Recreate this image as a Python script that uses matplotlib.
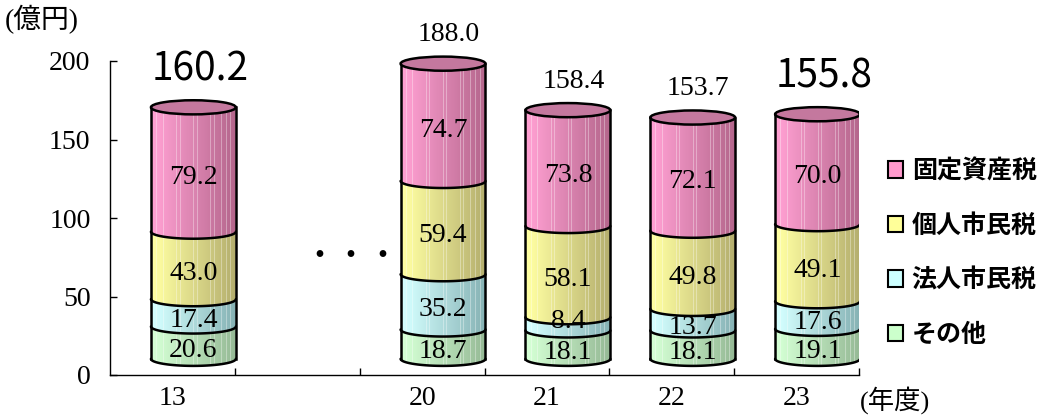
import numpy as np
import matplotlib
matplotlib.use('Agg')
import matplotlib.pyplot as plt
from matplotlib.path import Path
from matplotlib.patches import PathPatch, Ellipse, Patch
import matplotlib.colors as mcolors

# 市税収入の内訳（億円）
years = ['13', '20', '21', '22', '23']
slots = [0, 2, 3, 4, 5]          # slot 1 is left empty (・・・)
other = [20.6, 18.7, 18.1, 18.1, 19.1]
corp_tax = [17.4, 35.2, 8.4, 13.7, 17.6]
indiv_tax = [43.0, 59.4, 58.1, 49.8, 49.1]
fixed_tax = [79.2, 74.7, 73.8, 72.1, 70.0]
totals = [160.2, 188.0, 158.4, 153.7, 155.8]
series_names = ['その他', '法人市民税', '個人市民税', '固定資産税']

SERIF = ['Liberation Serif', 'DejaVu Serif']
GOTHIC = ['Noto Sans CJK JP', 'DejaVu Sans']

# (legend colour, light side, dark side) per series, bottom to top
palette = [
    ('#CCFFCC', '#D4FFD4', '#96BA96'),
    ('#CCFFFF', '#D4FFFF', '#86B2B4'),
    ('#FFFF99', '#FFFFA2', '#B4AE6E'),
    ('#FF99CC', '#FFA0D2', '#B4668C'),
]
top_face = '#C4789E'

# fake 3-D projection: cylinders sit back and to the right of the tick
DX, DY = 0.168, 10.3
HALF_W, HALF_H = 0.34, 4.5
stripes = [0.06, 0.14, 0.30, 0.34, 0.50, 0.54, 0.70, 0.74, 0.82, 0.88, 0.93]

YMAX = 235   # headroom above the 200 gridline so the tallest cylinder is not clipped
px_per_unit = 314 / 200
fig = plt.figure(figsize=(10.47, 4.16), dpi=100)
ax = fig.add_axes([110/1047, 41/416, 749/1047, YMAX*px_per_unit/416])


def lower_arc(xc, yc, n=80):
    th = np.linspace(np.pi, 2*np.pi, n)
    return np.column_stack([xc + HALF_W*np.cos(th), yc + HALF_H*np.sin(th)])


def side_gradient(light, dark, n=200):
    t = np.linspace(0, 1, n)
    c0 = np.array(mcolors.to_rgb(light))
    c1 = np.array(mcolors.to_rgb(dark))
    s = np.clip(t*1.05 - 0.05, 0, 1)
    return (c0[None, :]*(1 - s[:, None]) + c1[None, :]*s[:, None])[None, :, :]


def draw_segment(xc, y0, y1, light, dark):
    bottom = lower_arc(xc, y0)
    top = lower_arc(xc, y1)[::-1]
    verts = np.vstack([bottom, top, bottom[:1]])
    codes = [Path.MOVETO] + [Path.LINETO]*(len(verts) - 2) + [Path.CLOSEPOLY]
    patch = PathPatch(Path(verts, codes), fc='none', ec='none', zorder=3)
    ax.add_patch(patch)
    im = ax.imshow(side_gradient(light, dark), aspect='auto', interpolation='bilinear',
                   extent=[xc - HALF_W, xc + HALF_W, y0 - HALF_H, y1], zorder=3)
    im.set_clip_path(patch)
    for f in stripes:
        xs = xc - HALF_W + 2*HALF_W*f
        ln, = ax.plot([xs, xs], [y0 - HALF_H, y1], color='white', lw=0.7, alpha=0.35, zorder=3.1)
        ln.set_clip_path(patch)


for k, (slot, total) in enumerate(zip(slots, totals)):
    xc = slot + DX
    values = [other[k], corp_tax[k], indiv_tax[k], fixed_tax[k]]
    levels = DY + np.concatenate([[0], np.cumsum(values)])
    for j, v in enumerate(values):
        draw_segment(xc, levels[j], levels[j + 1], palette[j][1], palette[j][2])
    for j, v in enumerate(values):
        mid = (levels[j] + levels[j + 1]) / 2
        if v > 10:
            mid -= HALF_H*1.1
        else:
            mid += 1.5   # thin slice: label rides up into the boundary
        ax.text(xc, mid, f'{v:.1f}', ha='center', va='center', fontsize=20,
                family=SERIF, zorder=5)
    # outlines
    for y in levels[:-1]:
        a = lower_arc(xc, y)
        ax.plot(a[:, 0], a[:, 1], color='black', lw=1.8, zorder=6, solid_capstyle='round')
    for side in (-1, 1):
        ax.plot([xc + side*HALF_W]*2, [levels[0], levels[-1]], color='black', lw=1.8, zorder=6)
    ax.add_patch(Ellipse((xc, levels[-1]), 2*HALF_W, 2*HALF_H, fc=top_face, ec='black',
                         lw=1.8, zorder=6))
    # total above each cylinder
    if k in (0, len(totals) - 1):
        ax.annotate(f'{total:.1f}', (xc, levels[-1] + HALF_H), xytext=(5, 14),
                    textcoords='offset points', ha='center', va='baseline',
                    fontsize=28, family=['Liberation Sans Narrow', 'Noto Sans CJK JP'],
                    annotation_clip=False)
    else:
        ax.annotate(f'{total:.1f}', (xc, levels[-1] + HALF_H), xytext=(4, 11),
                    textcoords='offset points', ha='center', va='baseline',
                    fontsize=20, family=SERIF, annotation_clip=False)

ax.text(1.43, 75, '・・・', ha='center', va='center', fontsize=23, family=GOTHIC)

ax.set_xlim(-0.5, 5.5)
ax.set_ylim(0, YMAX)
ax.set_yticks(np.arange(0, 201, 50))
ax.spines['left'].set_bounds(0, 200)
ax.set_xticks(np.arange(0.5, 5.6, 1))
ax.set_xticklabels([])
ax.set_xticks(slots, minor=True)
ax.set_xticklabels(years, minor=True)
ax.tick_params(axis='y', direction='in', length=5, width=1, pad=14, labelsize=20)
ax.tick_params(axis='x', which='major', direction='in', length=5, width=1)
ax.tick_params(axis='x', which='minor', length=0, pad=8, labelsize=20)
for lab in ax.get_yticklabels() + ax.get_xticklabels(minor=True):
    lab.set_family(SERIF)
for s in ('top', 'right'):
    ax.spines[s].set_visible(False)
for s in ('left', 'bottom'):
    ax.spines[s].set_linewidth(1.0)

fig.text(5/1047, 1 - 20/416, '(億円)', ha='left', va='center', fontsize=20,
         family=['Liberation Serif', 'Noto Sans CJK JP'])
fig.text(860/1047, 1 - 400/416, '(年度)', ha='left', va='center', fontsize=19,
         family=['Liberation Serif', 'Noto Sans CJK JP'])

handles = [Patch(fc=palette[j][0], ec='black', lw=1.5, label=series_names[j])
           for j in range(3, -1, -1)]
fig.legend(handles=handles, loc='center left', bbox_to_anchor=(875/1047, 1 - 253/416),
           frameon=False, borderpad=0, handlelength=0.62, handleheight=0.62,
           handletextpad=0.35, labelspacing=1.22,
           prop={'family': 'Noto Sans CJK JP', 'weight': 'bold', 'size': 18})

fig.savefig('out.png', dpi=100)
